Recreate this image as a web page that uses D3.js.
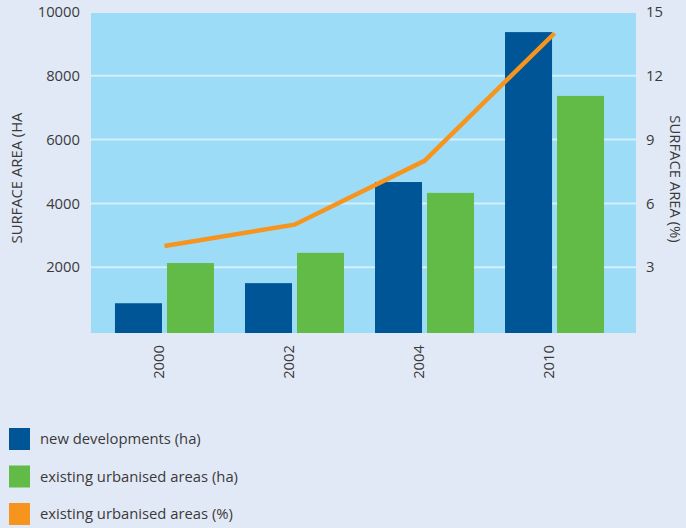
<!DOCTYPE html>
<html>
<head>
<meta charset="utf-8">
<script src="https://cdn.jsdelivr.net/npm/d3@7"></script>
<style>
  html, body { margin: 0; padding: 0; background: #e2e9f6; }
  svg { display: block; font-family: "Open Sans", "Noto Sans", sans-serif; }
</style>
</head>
<body>
<svg id="chart" width="686" height="528"></svg>
<script>
// Surface area of new developments vs existing urbanised areas
const years = ["2000", "2002", "2004", "2010"];
const newDevelopments = [870, 1500, 4670, 9370];
const existingAreas = [2130, 2450, 4330, 7370];
const existingPercent = [4, 5, 8, 14];
const leftTicks = [2000, 4000, 6000, 8000, 10000];
const rightTicks = [3, 6, 9, 12, 15];
const seriesNames = ["new developments (ha)", "existing urbanised areas (ha)", "existing urbanised areas (%)"];
const seriesColors = ["#005596", "#62bb46", "#f7941d"];

const svg = d3.select("#chart");
const plot = { left: 91, right: 636, top: 13, bottom: 333 };
const fontSize = 14.8;
const textColor = "#3a3a3a";

const y = d3.scaleLinear().domain([0, 10000]).range([331, 12]);
const yPct = d3.scaleLinear().domain([0, 15]).range([331, 12]);
const x0 = d3.scaleBand().domain(years).range([99.5, 619.5]).paddingInner(0.2385).paddingOuter(0.119);
const x1 = d3.scaleBand().domain([0, 1]).range([0, x0.bandwidth()]).paddingInner(0.096);

// plot background
svg.append("rect")
  .attr("x", plot.left).attr("y", plot.top)
  .attr("width", plot.right - plot.left).attr("height", plot.bottom - plot.top)
  .attr("fill", "#9ddcf7");

// gridlines
svg.append("g").selectAll("line").data(leftTicks.filter(d => d < 10000)).join("line")
  .attr("x1", plot.left).attr("x2", plot.right)
  .attr("y1", d => y(d)).attr("y2", d => y(d))
  .attr("stroke", "#d3effc").attr("stroke-width", 2);

// bars
const groups = svg.append("g").selectAll("g").data(years).join("g")
  .attr("transform", d => `translate(${x0(d)},0)`);
groups.append("rect")
  .attr("x", x1(0)).attr("width", x1.bandwidth())
  .attr("y", (d, i) => y(newDevelopments[i]))
  .attr("height", (d, i) => plot.bottom - y(newDevelopments[i]))
  .attr("fill", seriesColors[0]);
groups.append("rect")
  .attr("x", x1(1)).attr("width", x1.bandwidth())
  .attr("y", (d, i) => y(existingAreas[i]))
  .attr("height", (d, i) => plot.bottom - y(existingAreas[i]))
  .attr("fill", seriesColors[1]);

// percentage line
const line = d3.line()
  .x((d, i) => x0(years[i]) + x0.bandwidth() / 2)
  .y(d => yPct(d));
svg.append("path").datum(existingPercent)
  .attr("d", line)
  .attr("fill", "none")
  .attr("stroke", seriesColors[2])
  .attr("stroke-width", 4.5);

// left axis
const leftAxis = svg.append("g").attr("transform", `translate(${plot.left},0)`)
  .call(d3.axisLeft(y).tickValues(leftTicks).tickSize(0).tickPadding(11).tickFormat(d3.format("d")));
leftAxis.select(".domain").remove();
leftAxis.selectAll("text").attr("font-size", fontSize).attr("fill", textColor)
  .style("font-family", "'Open Sans', sans-serif");

// right axis
const rightAxis = svg.append("g").attr("transform", `translate(${plot.right},0)`)
  .call(d3.axisRight(yPct).tickValues(rightTicks).tickSize(0).tickPadding(10));
rightAxis.select(".domain").remove();
rightAxis.selectAll("text").attr("font-size", fontSize).attr("fill", textColor)
  .style("font-family", "'Open Sans', sans-serif");

// year labels
svg.append("g").selectAll("text").data(years).join("text")
  .attr("transform", d => `translate(${x0(d) + x0.bandwidth() / 2 - 6},345) rotate(-90)`)
  .attr("text-anchor", "end").attr("dy", "0.35em")
  .attr("font-size", fontSize).attr("fill", textColor)
  .text(d => d);

// axis titles
svg.append("text")
  .attr("transform", "translate(17,178) rotate(-90)")
  .attr("text-anchor", "middle").attr("dy", "0.35em")
  .attr("font-size", fontSize).attr("fill", textColor)
  .text("SURFACE AREA (HA");
svg.append("text")
  .attr("transform", "translate(675,179) rotate(90)")
  .attr("text-anchor", "middle").attr("dy", "0.35em")
  .attr("font-size", fontSize).attr("fill", textColor)
  .text("SURFACE AREA (%)");

// legend
const legend = svg.append("g").selectAll("g").data(seriesNames).join("g")
  .attr("transform", (d, i) => `translate(9,${428 + i * 37.5})`);
legend.append("rect").attr("width", 21).attr("height", 22)
  .attr("fill", (d, i) => seriesColors[i]);
legend.append("text").attr("x", 31).attr("y", 11).attr("dy", "0.35em")
  .attr("font-size", fontSize).attr("fill", textColor)
  .text(d => d);
</script>
</body>
</html>
